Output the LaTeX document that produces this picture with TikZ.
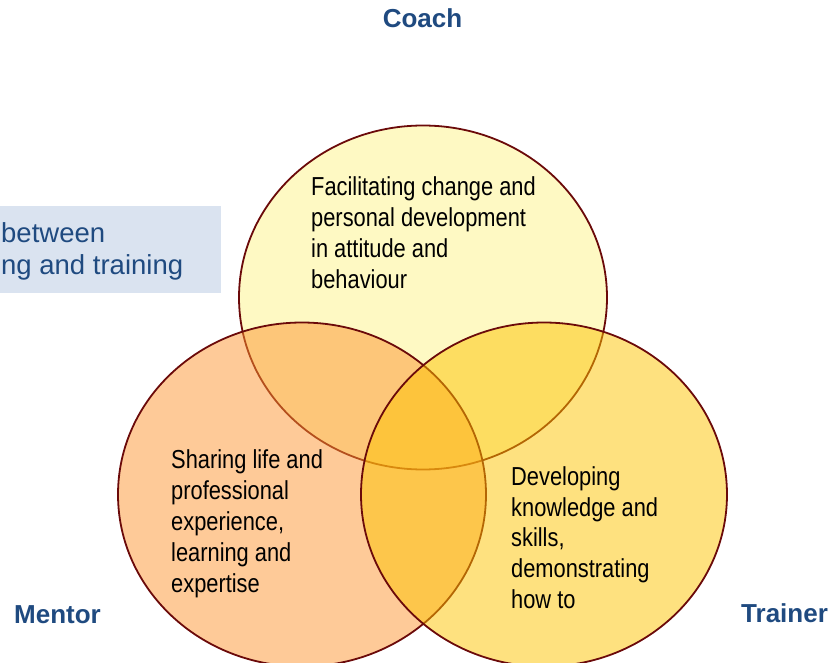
\documentclass[tikz,border=0pt]{standalone}
\usepackage{fontspec}
\setmainfont{Liberation Sans}
\newfontfamily\narrowfont[FakeStretch=0.84]{Liberation Sans}
\usepackage{tikz}
\definecolor{rimred}{HTML}{6B0A0A}
\definecolor{headblue}{HTML}{1F4A80}
\definecolor{boxblue}{HTML}{DAE3F0}
\definecolor{coachfill}{HTML}{FEF9C3}
\definecolor{mentorfill}{HTML}{FD9531}
\definecolor{trainerfill}{HTML}{FDC300}

\begin{document}
\begin{tikzpicture}[x=1pt,y=-1pt,
	role/.style={font=\fontsize{26}{31}\selectfont\bfseries, text=headblue, inner sep=0pt},
	blurb/.style={font=\narrowfont\fontsize{26}{30.8}\selectfont, align=left, inner sep=0pt, anchor=base west},
	boxtext/.style={font=\fontsize{27.5}{32}\selectfont, text=headblue, inner sep=0pt, anchor=base west},
	ring/.style={draw=rimred, line width=1.8pt}]
	\useasboundingbox (0,0) rectangle (833,663);
	\coordinate (cc) at (423,297.5);
	\coordinate (mc) at (302,494.5);
	\coordinate (tc) at (544,494.5);
	\fill[boxblue] (-5,206) rectangle (221,293);
	\node[boxtext] (boxline1) at (1,243) {between};
	\node[boxtext] (boxline2) at (1,275) {ng and training};
	\path[ring, fill=coachfill] (cc) ellipse [x radius=184, y radius=172];
	\path[ring, fill=mentorfill, fill opacity=0.5] (mc) ellipse [x radius=184, y radius=172];
	\path[ring, fill=trainerfill, fill opacity=0.5] (tc) ellipse [x radius=183, y radius=172];
	\node[blurb] (coachtext) at (311,288) {Facilitating change and\\personal development\\in attitude and\\behaviour};
	\node[blurb] (mentortext) at (171,592) {Sharing life and\\professional\\experience,\\learning and\\expertise};
	\node[blurb] (trainertext) at (511,608.5) {Developing\\knowledge and\\skills,\\demonstrating\\how to};
	\node[role, anchor=base] (coach) at (422.5,28) {Coach};
	\node[role, anchor=base west] (mentor) at (14,623) {Mentor};
	\node[role, anchor=base west] (trainer) at (741,622) {Trainer};
\end{tikzpicture}
\end{document}
